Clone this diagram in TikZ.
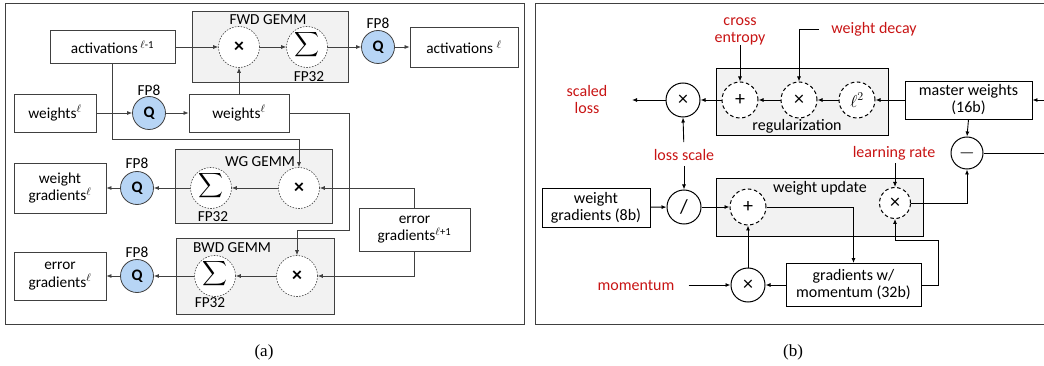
\documentclass[tikz,border=0pt]{standalone}
\usepackage{exscale}
\usepackage{fontspec}
\setmainfont{Carlito}
\newfontfamily\capfont{Liberation Serif}
\usetikzlibrary{arrows.meta}
\definecolor{lc}{RGB}{64,64,64}
\definecolor{gfill}{RGB}{242,242,242}
\definecolor{qblue}{RGB}{183,213,245}
\definecolor{redt}{RGB}{200,20,20}
\newcommand{\bigsigma}{\raisebox{-4.4pt}{\smash{$\displaystyle\sum$}}}
\begin{document}
\begin{tikzpicture}[x=1pt,y=-1pt,
  arr/.style={-{Latex[length=5pt,width=4pt]}, draw=lc, line width=0.7pt},
  arrb/.style={-{Latex[length=5pt,width=4pt]}, draw=black, line width=0.9pt},
  fa/.style={font=\fontsize{15.3}{17.5}\selectfont},
  fb/.style={font=\fontsize{16}{17}\selectfont},
  boxa/.style={draw=lc, fill=white, line width=0.8pt, inner sep=0pt, align=center, fa},
  gemm/.style={draw=lc, fill=gfill, line width=0.8pt, inner sep=0pt},
  dca/.style={circle, draw=lc, dash pattern=on 1.6pt off 1.3pt, line width=0.6pt, fill=white, inner sep=0pt, minimum size=41pt},
  qc/.style={circle, draw=lc, fill=qblue, line width=0.8pt, inner sep=0pt, minimum size=33pt, font=\fontsize{16}{16}\selectfont\bfseries},
  laba/.style={fa, inner sep=0pt},
  boxb/.style={draw=black, fill=white, line width=0.9pt, inner sep=0pt, align=center, fb},
  gb/.style={draw=black, fill=gfill, line width=0.9pt, inner sep=0pt},
  dcb/.style={circle, draw=black, dash pattern=on 3.6pt off 2.6pt, line width=1pt, fill=white, inner sep=0pt, minimum size=36pt, font=\fontsize{20}{20}\selectfont},
  scb/.style={circle, draw=black, line width=1pt, fill=white, inner sep=0pt, minimum size=34pt, font=\fontsize{20}{20}\selectfont},
  redl/.style={fb, text=redt, align=center, inner sep=0pt},
  labb/.style={fb, inner sep=0pt},
  mula/.style={font=\fontsize{20}{20}\selectfont\bfseries},
  sigma/.style={font=\fontsize{17.5}{17.5}\selectfont}
]
\useasboundingbox (0,0) rectangle (1044,366);
% frames
\draw[lc, line width=0.9pt] (5,3) rectangle (524,324);
\draw[lc, line width=0.9pt] (535,3) rectangle (1060,324);

% ================= panel (a) =================
\node[gemm, minimum width=156pt, minimum height=71pt] (fwd) at (270,46.5) {};
\node[gemm, minimum width=157pt, minimum height=74pt] (wg) at (253.5,186) {};
\node[gemm, minimum width=158pt, minimum height=76pt] (bwd) at (255,276) {};
\node[laba] (fwdl) at (268,20) {FWD GEMM};
\node[laba] (wgl) at (260,162) {WG GEMM};
\node[laba] (bwdl) at (232,248) {BWD GEMM};

\node[boxa, minimum width=125pt, minimum height=33pt] (act1) at (112.5,47) {activations\,\textsuperscript{$\ell$-1}};
\node[dca, mula] (mulF) at (239,47) {×};
\node[dca, sigma] (sumF) at (307,47) {\bigsigma};
\node[qc] (qF) at (378,47) {Q};
\node[boxa, minimum width=108pt, minimum height=40pt] (act2) at (464,47) {activations \textsuperscript{$\ell$}};
\node[laba] (fp8F) at (378,23) {FP8};
\node[laba] (fp32F) at (309,77) {FP32};

\node[boxa, minimum width=82pt, minimum height=38pt] (w1) at (55,113) {weights\textsuperscript{$\ell$}};
\node[qc] (qW) at (149,113) {Q};
\node[laba] (fp8W) at (149,90) {FP8};
\node[boxa, minimum width=100pt, minimum height=38pt] (w2) at (239,113) {weights\textsuperscript{$\ell$}};

\node[dca, mula] (mulWG) at (299,188) {×};
\node[dca, sigma] (sumWG) at (211,188) {\bigsigma};
\node[qc] (qWG) at (137,188) {Q};
\node[laba] (fp8WG) at (137,163) {FP8};
\node[laba] (fp32WG) at (213,217) {FP32};
\node[boxa, minimum width=92pt, minimum height=50pt] (wgout) at (60,188) {weight\\gradients\textsuperscript{$\ell$}};

\node[boxa, minimum width=111pt, minimum height=43pt] (err) at (414.5,229.5) {error\\gradients\textsuperscript{$\ell$+1}};

\node[dca, mula] (mulB) at (297,276) {×};
\node[dca, sigma] (sumB) at (215,276) {\bigsigma};
\node[qc] (qB) at (137,276) {Q};
\node[laba] (fp8B) at (137,252) {FP8};
\node[laba] (fp32B) at (210,303) {FP32};
\node[boxa, minimum width=92pt, minimum height=48pt] (errout) at (60,276) {error\\gradients\textsuperscript{$\ell$}};

\coordinate (k1) at (299,139);
\coordinate (k2) at (349,230);

\draw[arr] (act1) -- (mulF);
\draw[arr] (mulF) -- (sumF);
\draw[arr] (sumF) -- (qF);
\draw[arr] (qF) -- (act2);
\draw[arr] (w1) -- (qW);
\draw[arr] (qW) -- (w2);
\draw[arr] (w2.north) -- (mulF.south);
\draw[arr] (act1.south) |- (k1) -- (mulWG.north);
\draw[arr] (w2.east) -| (k2) -| (mulB.north);
\draw[arr] (err.north) |- (mulWG.east);
\draw[arr] (err.south) |- (mulB.east);
\draw[arr] (mulWG) -- (sumWG);
\draw[arr] (sumWG) -- (qWG);
\draw[arr] (qWG) -- (wgout);
\draw[arr] (mulB) -- (sumB);
\draw[arr] (sumB) -- (qB);
\draw[arr] (qB) -- (errout);

% ================= panel (b) =================
\node[gb, minimum width=172pt, minimum height=67pt] (reg) at (802,101.5) {};
\node[labb] (regl) at (797,126) {regularization};
\node[gb, minimum width=207pt, minimum height=58pt] (wu) at (819.5,207) {};
\node[labb] (wul) at (820,188) {weight update};

\node[redl] (ce) at (740,31) {cross\\entropy};
\node[dcb] (plusR) at (740,100) {+};
\node[scb] (mulL) at (683,100) {×};
\node[redl] (sl) at (587,100) {scaled\\loss};
\node[dcb] (mulR) at (799,100) {×};
\node[dcb, font=\fontsize{17}{17}\selectfont] (l2) at (857,100) {$\ell^2$};
\node[boxb, minimum width=127pt, minimum height=38pt] (master) at (968.5,100) {master weights\\(16b)};
\node[scb, minimum size=32pt] (minus) at (967,153) {$-$};
\node[redl] (wd) at (874,29) {weight decay};
\node[redl] (lsc) at (684,155) {loss scale};
\node[redl] (lr) at (894,153) {learning rate};

\node[boxb, minimum width=108pt, minimum height=39pt] (wgr) at (596,207.5) {weight\\gradients (8b)};
\node[scb] (div) at (684,207) {/};
\node[dcb] (plusU) at (748,207) {+};
\node[dcb, minimum size=31pt] (mulU) at (895,203) {×};
\node[boxb, minimum width=135pt, minimum height=43pt] (gm) at (853.5,285) {gradients w/\\momentum (32b)};
\node[scb] (momx) at (748,285) {×};
\node[redl] (mom) at (636,285) {momentum};

\coordinate (slend) at (632,100);
\coordinate (inR) at (1060,100);
\coordinate (outR) at (1060,153);
\coordinate (k3) at (938,240);

\draw[arrb] (ce.south) -- (plusR.north);
\draw[arrb] (plusR) -- (mulL);
\draw[arrb] (mulL) -- (slend);
\draw[arrb, shorten <=7pt] (lsc.north) -- (mulL.south);
\draw[arrb, shorten <=5pt] (lsc.south) -- (div.north);
\draw[arrb] (master) -- (l2);
\draw[arrb] (l2) -- (mulR);
\draw[arrb] (mulR) -- (plusR);
\draw[arrb, shorten <=12pt] (wd.west) -| (mulR.north);
\draw[arrb] (inR) -- (master.east);
\draw[arrb] (master.south) -- (minus.north);
\draw[black, line width=0.9pt] (minus.east) -- (outR);
\draw[arrb] (wgr) -- (div);
\draw[arrb] (div) -- (plusU);
\draw[arrb] (plusU.east) -| (gm.north);
\draw[arrb] (gm.east) -| (k3) -| (mulU.south);
\draw[arrb] (mulU.east) -| (minus.south);
\draw[arrb, shorten <=3pt] (lr.south -| mulU.north) -- (mulU.north);
\draw[arrb, shorten <=14pt] (mom.east) -- (momx.west);
\draw[arrb] (gm.west) -- (momx.east);
\draw[arrb] (momx.north) -- (plusU.south);

% captions
\node[font=\capfont\fontsize{17}{17}\selectfont, inner sep=0pt] (capa) at (264,352) {(a)};
\node[font=\capfont\fontsize{17}{17}\selectfont, inner sep=0pt] (capb) at (793,352) {(b)};
\end{tikzpicture}
\end{document}
